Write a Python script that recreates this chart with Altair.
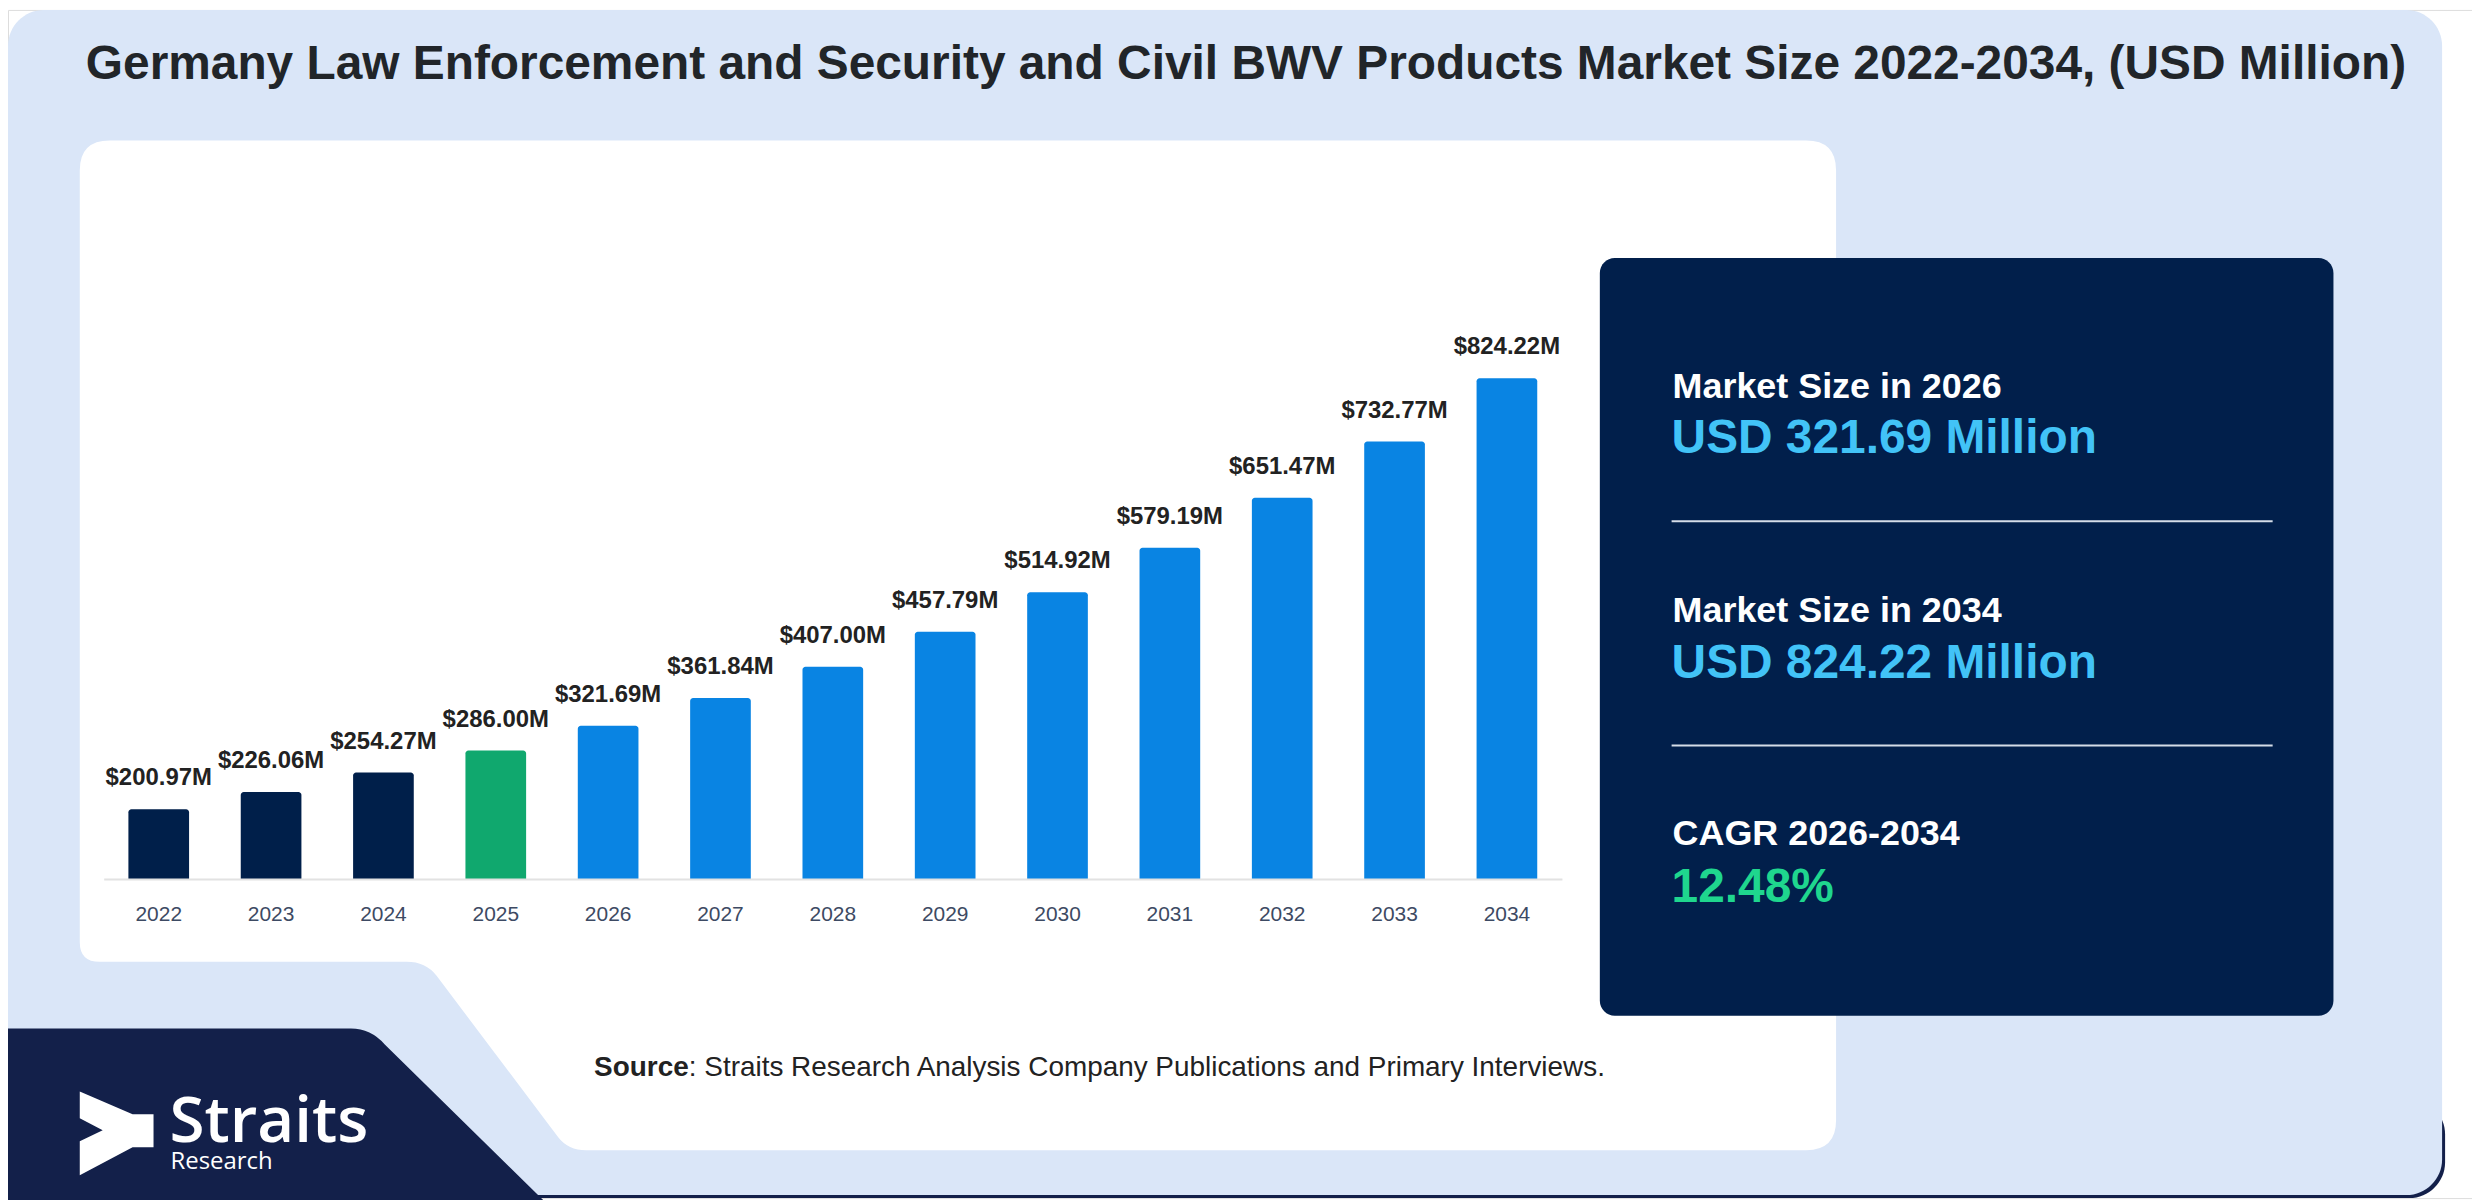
import altair as alt
import pandas as pd

# ---------------- data ----------------
years = ["2022", "2023", "2024", "2025", "2026", "2027", "2028",
         "2029", "2030", "2031", "2032", "2033", "2034"]
values = [200.97, 226.06, 254.27, 286.00, 321.69, 361.84, 407.00,
          457.79, 514.92, 579.19, 651.47, 732.77, 824.22]
phase = ["Historical"] * 3 + ["Base"] + ["Forecast"] * 9

phase_names = ["Historical", "Base", "Forecast"]
phase_colors = ["#001f4a", "#10a86e", "#0984e3"]

title_text = ("Germany Law Enforcement and Security and Civil BWV Products "
              "Market Size 2022-2034, (USD Million)")
kpi_labels = ["Market Size in 2026", "Market Size in 2034", "CAGR 2026-2034"]
kpi_values = ["USD 321.69 Million", "USD 824.22 Million", "12.48%"]
source_bold = "Source"
source_rest = ": Straits Research Analysis Company Publications and Primary Interviews."

df = pd.DataFrame({"year": years, "value": values, "phase": phase})
one = pd.DataFrame({"k": [0]})

OFF = 8  # page margin


def P(v):
    return v - OFF


def path(cmds):
    """cmds: list of (letter, [x, y, ...]) in page coordinates."""
    out = []
    for letter, nums in cmds:
        pts = []
        for i in range(0, len(nums), 2):
            pts.append(f"{P(nums[i])},{P(nums[i + 1])}")
        out.append(letter + " " + " ".join(pts))
    return " ".join(out) + " Z"


def shape_layer(d, color):
    return alt.Chart(one).mark_point(
        shape=d, size=4, filled=True, opacity=1, color=color, strokeWidth=0
    ).encode(x=alt.value(0), y=alt.value(0))


def rect_layer(x1, x2, y1, y2, color, r):
    return alt.Chart(one).mark_rect(color=color, cornerRadius=r).encode(
        x=alt.value(P(x1)), x2=alt.value(P(x2)),
        y=alt.value(P(y1)), y2=alt.value(P(y2)))


def text_layer(txt, x, y, size, color, weight="bold", font="Liberation Sans", align="left"):
    return alt.Chart(one).mark_text(
        text=txt, align=align, baseline="alphabetic", font=font,
        fontSize=size, fontWeight=weight, color=color
    ).encode(x=alt.value(P(x)), y=alt.value(P(y)))


def rule_layer(x1, x2, y, color, w):
    return alt.Chart(one).mark_rule(color=color, strokeWidth=w).encode(
        x=alt.value(P(x1)), x2=alt.value(P(x2)), y=alt.value(P(y)))


# ---------------- decorations ----------------
shadow = rect_layer(500, 2453, 1100, 1200, "#13204a", 36)
bg = rect_layer(OFF, 2450, OFF, 1197, "#dae6f8", 36)

logo_block = shape_layer(path([
    ("M", [0, 1030]), ("L", [352, 1030]), ("Q", [372, 1030, 386, 1046]),
    ("L", [548, 1205]), ("L", [0, 1205])]), "#13204a")

white_panel = shape_layer(path([
    ("M", [80, 169]), ("Q", [80, 139, 110, 139]), ("L", [1812, 139]),
    ("Q", [1842, 139, 1842, 169]), ("L", [1842, 1122]),
    ("Q", [1842, 1152, 1812, 1152]), ("L", [588, 1152]),
    ("Q", [570, 1152, 560, 1139]), ("L", [438, 977]),
    ("Q", [427, 963, 408, 963]), ("L", [100, 963]),
    ("Q", [80, 963, 80, 943])]), "#ffffff")

navy_panel = rect_layer(1605, 2341, 257, 1017, "#011f4b", 15)

arrow = shape_layer(path([
    ("M", [80, 1093]), ("L", [133, 1116]), ("L", [154, 1116]), ("L", [154, 1149]),
    ("L", [133, 1149]), ("L", [80, 1177]), ("L", [80, 1143]), ("L", [103, 1132]),
    ("L", [80, 1120])]), "#ffffff")

logo_t1 = text_layer("Straits", 170, 1144, 64, "#ffffff", weight=600, font="Open Sans")
logo_t2 = text_layer("Research", 171, 1171, 24, "#ffffff", weight="normal", font="Open Sans")

title = text_layer(title_text, 1250, 77, 48, "#212529", align="center")

KX = 1678
kpi = [
    text_layer(kpi_labels[0], KX, 397, 36, "#ffffff"),
    text_layer(kpi_values[0], KX - 1, 453, 48, "#42c3f7"),
    rule_layer(KX - 1, 2280, 521, "#d5dde8", 2),
    text_layer(kpi_labels[1], KX, 622, 36, "#ffffff"),
    text_layer(kpi_values[1], KX - 1, 678, 48, "#42c3f7"),
    rule_layer(KX - 1, 2280, 746, "#d5dde8", 2),
    text_layer(kpi_labels[2], KX, 846, 36, "#ffffff"),
    text_layer(kpi_values[2], KX - 1, 903, 48, "#1fd68e"),
]

src1 = text_layer(source_bold, 596, 1078, 28, "#222222")
src2 = text_layer(source_rest, 691, 1078, 28, "#222222", weight="normal")

# ---------------- bars ----------------
x_enc = alt.X(
    "year:N", sort=years,
    scale=alt.Scale(range=[P(104), P(1567)], paddingInner=0.46, paddingOuter=0.22),
    axis=alt.Axis(orient="bottom", offset=-(1192 - P(880)), title=None,
                  domain=True, domainColor="#e2e2e2", domainWidth=2,
                  ticks=False, tickSize=0, grid=False, labelAngle=0,
                  labelBaseline="alphabetic", labelPadding=42,
                  labelFont="Liberation Sans", labelFontSize=21,
                  labelColor="#3d4a63", zindex=2))
y_enc = alt.Y("value:Q",
              scale=alt.Scale(domain=[100, 900], range=[P(880), P(325)],
                              zero=False, nice=False),
              axis=None)

base = alt.Chart(df)
bars = base.mark_bar(cornerRadiusTopLeft=3, cornerRadiusTopRight=3).encode(
    x=x_enc, y=y_enc, y2=alt.datum(100),
    color=alt.Color("phase:N", scale=alt.Scale(domain=phase_names, range=phase_colors),
                    legend=None))

labels = base.transform_calculate(
    label="'$' + format(datum.value, '.2f') + 'M'"
).mark_text(font="Liberation Sans", fontSize=24, fontWeight="bold",
            color="#222222", baseline="alphabetic", dy=-24).encode(
    x=x_enc, y=y_enc, text="label:N")

chart = alt.layer(
    shadow, bg, logo_block, white_panel, navy_panel,
    *kpi, title, bars, labels, arrow, logo_t1, logo_t2, src1, src2
).properties(
    width=2472, height=1192, padding=0,
    autosize=alt.AutoSizeParams(type="none")
).configure_view(stroke=None).configure(background="#ffffff")

chart.save("out.html", embed_options={"renderer": "svg", "actions": False})
